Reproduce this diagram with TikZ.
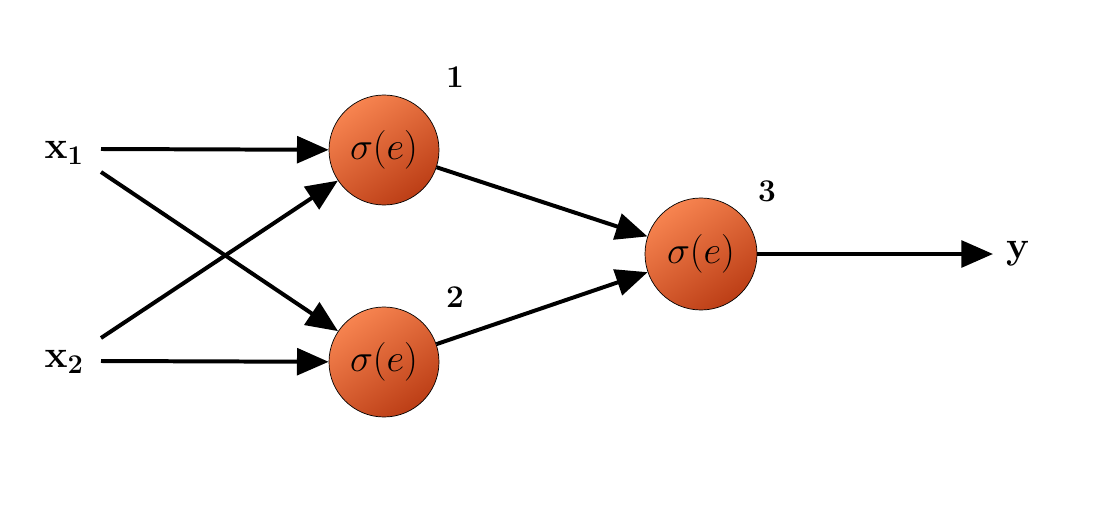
\documentclass[tikz,border=0pt]{standalone}
\usepackage{fix-cm}
\usetikzlibrary{arrows.meta}
\definecolor{nlight}{RGB}{247,132,80}
\definecolor{ndark}{RGB}{188,62,22}
\begin{document}
\begin{tikzpicture}[x=0.03cm,y=-0.03cm,
  neuron/.style={circle,draw=black,line width=0.6pt,minimum size=3.3cm,inner sep=0pt,
    top color=nlight,bottom color=ndark,shading angle=35,
    font=\fontsize{33}{37}\selectfont},
  lbl/.style={font=\fontsize{27}{31}\selectfont,inner sep=0pt},
  io/.style={font=\fontsize{33}{37}\selectfont,inner sep=0pt},
  conn/.style={line width=3.4pt,-{Triangle[length=0.95cm,width=0.8cm]}}]
\useasboundingbox (0,0) rectangle (1098,510);
\node[neuron] (n1) at (384,150) {$\sigma(e)$};
\node[neuron] (n2) at (384,362) {$\sigma(e)$};
\node[neuron,minimum size=3.36cm] (n3) at (701,254) {$\sigma(e)$};
\node[lbl] (l1) at (455,77) {$\mathbf{1}$};
\node[lbl] (l2) at (455,297) {$\mathbf{2}$};
\node[lbl] (l3) at (767,191) {$\mathbf{3}$};
\node[io] (x1) at (64,153) {$\mathbf{x_1}$};
\node[io] (x2) at (64,362) {$\mathbf{x_2}$};
\node[io] (y) at (1018,254) {$\mathbf{y}$};
\coordinate (x1a) at (101,149);
\coordinate (x1b) at (101,172);
\coordinate (x2a) at (101,338);
\coordinate (x2b) at (101,361);
\coordinate (yend) at (993,254);
\draw[conn] (x1a) -- (n1);
\draw[conn] (x1b) -- (n2);
\draw[conn] (x2a) -- (n1);
\draw[conn] (x2b) -- (n2);
\draw[conn] (n1) -- (n3);
\draw[conn] (n2) -- (n3);
\draw[conn] (n3) -- (yend);
\end{tikzpicture}
\end{document}
